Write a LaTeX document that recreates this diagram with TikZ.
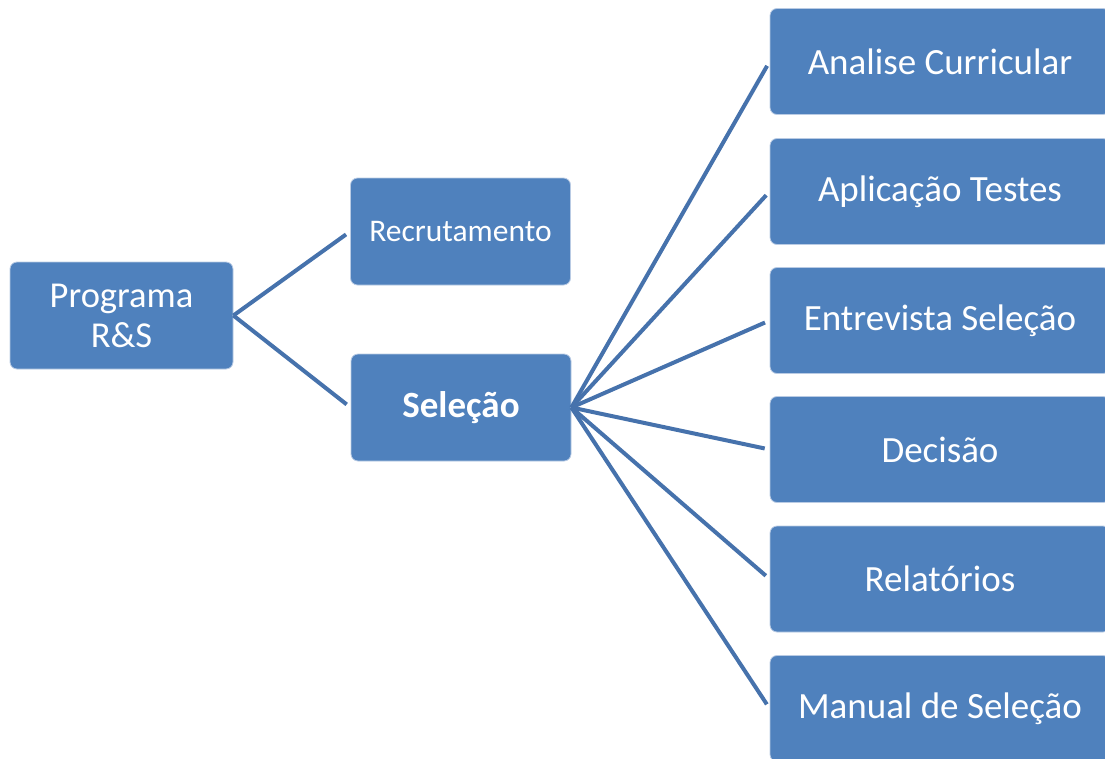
\documentclass[tikz,border=0pt]{standalone}
\usepackage{fontspec}
\setmainfont{Carlito}
\definecolor{boxblue}{HTML}{4F81BD}
\definecolor{boxedge}{HTML}{B9CBE4}
\definecolor{linkblue}{HTML}{4672AC}
\begin{document}
\begin{tikzpicture}[x=1pt,y=-1pt,
  card/.style={draw=boxedge,line width=0.8pt,fill=boxblue,rounded corners=7pt,
    text=white,align=center,inner sep=0pt},
  rootcard/.style={card,minimum width=223pt,minimum height=107pt,
    font=\fontsize{36.5}{40}\selectfont},
  midcard/.style={card,minimum width=220pt,minimum height=107pt},
  leafcard/.style={card,minimum width=340pt,minimum height=106pt,
    font=\fontsize{37}{44}\selectfont},
  link/.style={draw=linkblue,line width=4pt,shorten >=5pt}]
\useasboundingbox (0,0) rectangle (1105,758);
% root
\node[rootcard] (root) at (121.5,315.5) {Programa\\R\&S};
% second level
\node[midcard,font=\fontsize{31.5}{36}\selectfont] (recr) at (460.5,231.5) {Recrutamento};
\node[midcard,font=\bfseries\fontsize{37}{44}\selectfont] (sel) at (461,407.5) {Seleção};
% third level
\node[leafcard] (l1) at (940,61.5) {Analise Curricular};
\node[leafcard] (l2) at (940,191.5) {Aplicação Testes};
\node[leafcard] (l3) at (940,320.5) {Entrevista Seleção};
\node[leafcard] (l4) at (940,449.5) {Decisão};
\node[leafcard] (l5) at (940,579) {Relatórios};
\node[leafcard] (l6) at (940,708.5) {Manual de Seleção};
% connectors
\draw[link] (root.east) -- (recr.west);
\draw[link] (root.east) -- (sel.west);
\foreach \n in {l1,l2,l3,l4,l5,l6}
  \draw[link] (sel.east) -- (\n.west);
\end{tikzpicture}
\end{document}
